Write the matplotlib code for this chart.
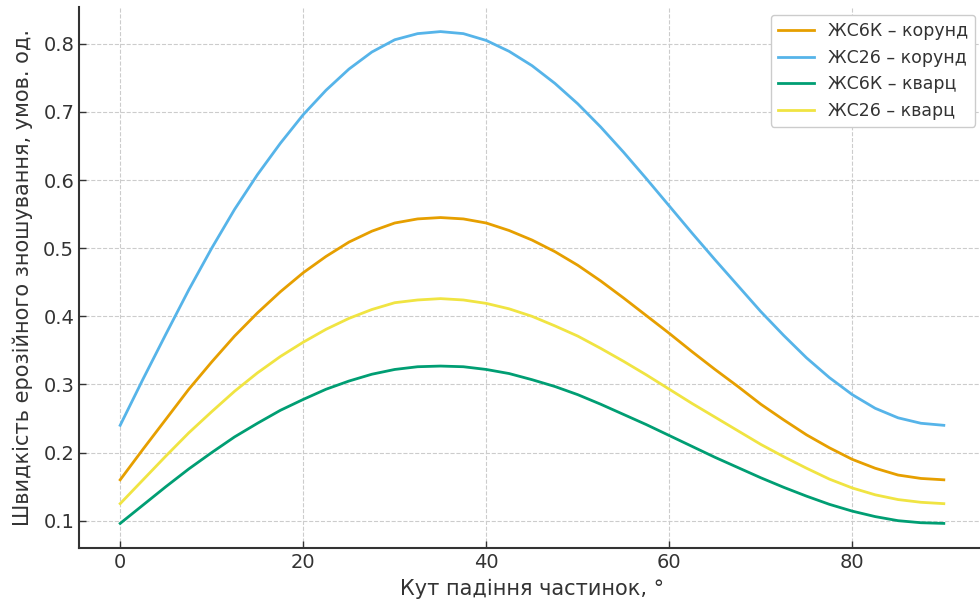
import numpy as np
import matplotlib.pyplot as plt

# кут падіння частинок, градуси (крок 2.5)
angle = [0, 2.5, 5, 7.5, 10, 12.5, 15, 17.5, 20, 22.5, 25, 27.5, 30, 32.5, 35, 37.5, 40,
         42.5, 45, 47.5, 50, 52.5, 55, 57.5, 60, 62.5, 65, 67.5, 70, 72.5, 75, 77.5, 80,
         82.5, 85, 87.5, 90]

# швидкість ерозійного зношування, умов. од.
zhs6k_korund = [0.160, 0.205, 0.249, 0.293, 0.333, 0.371, 0.405, 0.436, 0.464, 0.488,
                0.509, 0.525, 0.537, 0.543, 0.545, 0.543, 0.537, 0.526, 0.512, 0.495,
                0.475, 0.452, 0.427, 0.401, 0.375, 0.348, 0.322, 0.297, 0.271, 0.248,
                0.226, 0.207, 0.190, 0.177, 0.167, 0.162, 0.160]
zhs26_korund = [0.240, 0.308, 0.374, 0.439, 0.500, 0.557, 0.608, 0.654, 0.696, 0.732,
                0.763, 0.788, 0.806, 0.815, 0.818, 0.815, 0.805, 0.789, 0.768, 0.742,
                0.712, 0.678, 0.641, 0.602, 0.562, 0.522, 0.483, 0.445, 0.407, 0.372,
                0.339, 0.310, 0.285, 0.265, 0.251, 0.243, 0.240]
zhs6k_kvarts = [0.096, 0.123, 0.150, 0.176, 0.200, 0.223, 0.243, 0.262, 0.278, 0.293,
                0.305, 0.315, 0.322, 0.326, 0.327, 0.326, 0.322, 0.316, 0.307, 0.297,
                0.285, 0.271, 0.256, 0.241, 0.225, 0.209, 0.193, 0.178, 0.163, 0.149,
                0.136, 0.124, 0.114, 0.106, 0.100, 0.097, 0.096]
zhs26_kvarts = [0.125, 0.160, 0.195, 0.229, 0.260, 0.290, 0.317, 0.341, 0.362, 0.381,
                0.397, 0.410, 0.420, 0.424, 0.426, 0.424, 0.419, 0.411, 0.400, 0.386,
                0.371, 0.353, 0.334, 0.314, 0.293, 0.272, 0.252, 0.232, 0.212, 0.194,
                0.177, 0.161, 0.148, 0.138, 0.131, 0.127, 0.125]

labels = ["ЖС6К – корунд", "ЖС26 – корунд", "ЖС6К – кварц", "ЖС26 – кварц"]
colors = ["#E69F00", "#56B4E9", "#009E73", "#F0E442"]

fig = plt.figure(figsize=(9.8, 6.03), dpi=100)
ax = fig.add_axes([79/980, 55/603, 906/980, 541/603])

for y, lab, c in zip([zhs6k_korund, zhs26_korund, zhs6k_kvarts, zhs26_kvarts], labels, colors):
    ax.plot(angle, y, color=c, lw=2, label=lab)

ax.set_xticks([0, 20, 40, 60, 80])
ax.set_yticks(np.arange(0.1, 0.81, 0.1))
ax.grid(True, linestyle="--", color="#cccccc", linewidth=0.8)
ax.tick_params(direction="in", labelsize=14, colors="#333333", length=5, width=1)
for s in ["top", "right"]:
    ax.spines[s].set_visible(False)
for s in ["left", "bottom"]:
    ax.spines[s].set_color("#333333")
    ax.spines[s].set_linewidth(1.5)

ax.set_xlabel("Кут падіння частинок, °", fontsize=15, color="#333333", labelpad=5)
ax.set_ylabel("Швидкість ерозійного зношування, умов. од.", fontsize=15, color="#333333", labelpad=7)

leg = ax.legend(loc="upper right", bbox_to_anchor=(975/980, 588/603),
                bbox_transform=fig.transFigure, borderaxespad=0, fontsize=12.5,
                handlelength=2.1, framealpha=1, edgecolor="#cccccc")
for t in leg.get_texts():
    t.set_color("#333333")

fig.savefig("out.png", dpi=100)
